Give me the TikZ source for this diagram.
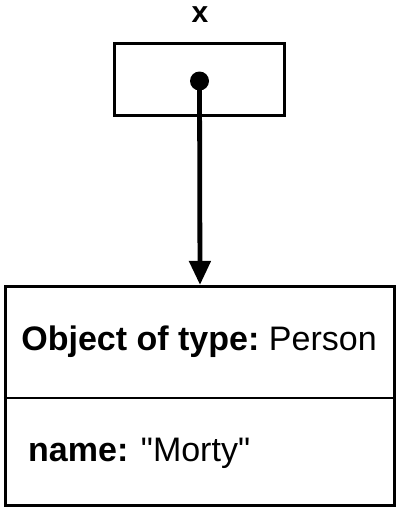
\documentclass[tikz,border=0pt]{standalone}
\usepackage{fontspec}
\setmainfont{Liberation Sans}[Ligatures=TeXOff]
\usepackage{tikz}
\usetikzlibrary{arrows.meta, positioning}

\begin{document}
\begin{tikzpicture}[
    x=1pt, y=1pt,
    varbox/.style={draw, line width=3.4pt, minimum width=170pt, minimum height=72pt, inner sep=0pt},
    objbox/.style={draw, line width=3.2pt, minimum width=389pt, minimum height=219pt, inner sep=0pt},
    refdot/.style={circle, fill, minimum size=19pt, inner sep=0pt},
    divider/.style={line width=1.8pt},
    pointer/.style={line width=4.8pt, -{Triangle[length=24pt, width=21pt]}},
    label/.style={font=\fontsize{34}{40}\selectfont, inner sep=0pt}
]
\useasboundingbox (0,0) rectangle (400,-511);

% Variable x
\node[varbox] (xbox) at (199.5,-79.5) {};
\node[font=\fontsize{30}{34}\selectfont\bfseries, inner sep=0pt] (xname) at (200,-15) {x};
\node[refdot] (ref) at (199.5,-81) {};

% Object
\node[objbox] (obj) at (200,-396) {};
\draw[divider] ([yshift=-2pt]obj.west) -- ([yshift=-2pt]obj.east);
\node[label] (objtype) at (199,-342) {\textbf{Object of type:}\hspace{-3pt} Person};
\node[label, anchor=west] (objname) at (28,-453) {\textbf{name:} "Morty"};

% Reference
\draw[pointer] (ref.center) -- (obj.north);

\end{tikzpicture}
\end{document}
